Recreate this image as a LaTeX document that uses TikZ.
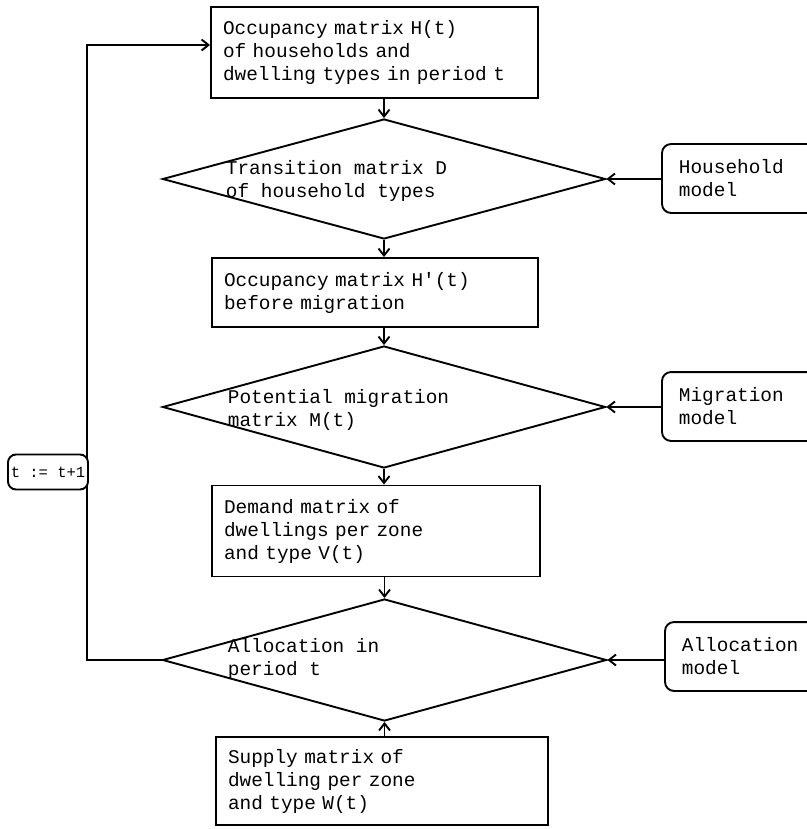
\documentclass[tikz,border=0pt]{standalone}
\usepackage{fontspec}
\newfontfamily\tw{Liberation Mono}
\usetikzlibrary{shapes.geometric,arrows.meta}
\begin{document}
\begin{tikzpicture}[x=1pt,y=-1pt,
  line width=1.9pt,
  font={\tw\fontsize{19.4}{23}\selectfont},
  box/.style={draw, rectangle, align=left, inner xsep=12pt, inner ysep=0pt},
  dia/.style={draw, diamond, aspect=3.7, inner sep=0pt},
  lbl/.style={anchor=west, align=left, inner sep=0pt},
  model/.style={anchor=west, align=left, inner xsep=16pt, inner ysep=0pt, text width=125pt, minimum height=67pt},
  modelshape/.style={rounded corners=9pt},
  arr/.style={-{Straight Barb[length=7pt,width=11pt]}}
]
\useasboundingbox (0,0) rectangle (806,829);

% main boxes
\node[box, text width=303pt, minimum height=91pt] (b1) at (374.5,52.5) {Occupancy matrix H(t)\\of households and\\dwelling types in period t};
\node[box, text width=302pt, minimum height=69pt] (b2) at (375,292.5) {Occupancy matrix H'(t)\\before migration};
\node[box, text width=304pt, minimum height=91pt] (b3) at (376,531) {Demand matrix of\\dwellings per zone\\and type V(t)};
\node[box, text width=308pt, minimum height=88pt] (b4) at (382,781) {Supply matrix of\\dwelling per zone\\and type W(t)};

% diamonds
\node[dia, minimum width=443pt, minimum height=120pt] (d1) at (384,179) {};
\node[dia, minimum width=443pt, minimum height=122pt] (d2) at (384,407) {};
\node[dia, minimum width=444pt, minimum height=122pt] (d3) at (384.5,660) {};
\node[lbl] (d1t) at (225,181) {Transition matrix D\\of household types};
\node[lbl] (d2t) at (227,410) {Potential migration\\matrix M(t)};
\node[lbl] (d3t) at (227,659) {Allocation in\\period t};

% model boxes
\node[model] (hm) at (662,178.5) {Household\\model};
\node[model] (mm) at (662,406.5) {Migration\\model};
\node[model] (am) at (665,656.5) {Allocation\\model};
\draw[modelshape] (hm.north east) -- (hm.north west) -- (hm.south west) -- (hm.south east);
\draw[modelshape] (mm.north east) -- (mm.north west) -- (mm.south west) -- (mm.south east);
\draw[modelshape] (am.north east) -- (am.north west) -- (am.south west) -- (am.south east);

% vertical flow
\draw[arr] (b1.south -| d1.north) -- (d1.north);
\draw[arr] (d1.south) -- (d1.south |- b2.north);
\draw[arr] (b2.south -| d2.north) -- (d2.north);
\draw[arr] (d2.south) -- (d2.south |- b3.north);
\draw[arr] (b3.south -| d3.north) -- (d3.north);
\draw[arr] (b4.north -| d3.south) -- (d3.south);

% model inputs
\draw[arr] (hm.west |- d1.east) -- (d1.east);
\draw[arr] (mm.west |- d2.east) -- (d2.east);
\draw[arr] (am.west |- d3.east) -- (d3.east);

% feedback loop
\coordinate (lt) at (87,45);
\draw[arr] (d3.west) -| (lt) -- (b1.west |- lt);
\node[draw, fill=white, rounded corners=8pt, minimum width=80pt, minimum height=35pt, inner sep=1pt, font={\tw\fontsize{15.5}{17}\selectfont}] (inc) at (48,472) {t := t+1};
\end{tikzpicture}
\end{document}
